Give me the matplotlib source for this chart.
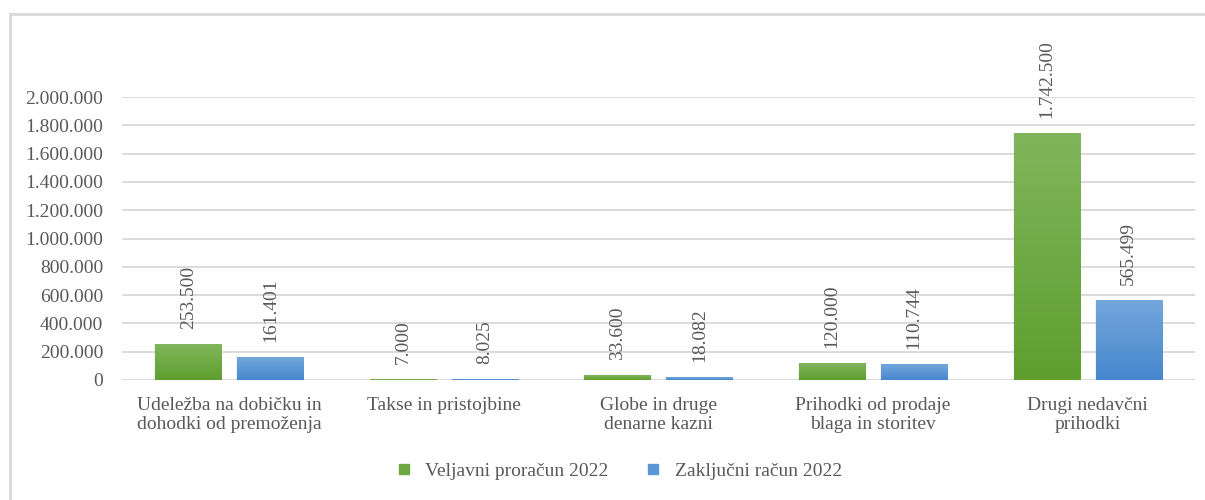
import matplotlib
matplotlib.use("Agg")
import matplotlib.pyplot as plt
import numpy as np
from matplotlib.lines import Line2D
from matplotlib.colors import LinearSegmentedColormap

categories = ["Udeležba na dobičku in\ndohodki od premoženja",
              "Takse in pristojbine",
              "Globe in druge\ndenarne kazni",
              "Prihodki od prodaje\nblaga in storitev",
              "Drugi nedavčni\nprihodki"]
series_names = ["Veljavni proračun 2022", "Zaključni račun 2022"]
veljavni = [253500, 7000, 33600, 120000, 1742500]
zakljucni = [161401, 8025, 18082, 110744, 565499]
yticks = list(range(0, 2000001, 200000))

plt.rcParams['font.family'] = ['Liberation Serif', 'DejaVu Serif']
text_color = "#595959"
grid_color = "#d9d9d9"

fig = plt.figure(figsize=(12.05, 5), dpi=100)
ax = fig.add_axes([122/1205, 1-380/500, (1195-122)/1205, (380-97)/500])

# frame
fig.add_artist(Line2D([10/1205, 10/1205], [1-14/500, 0], transform=fig.transFigure, color=grid_color, lw=2))
fig.add_artist(Line2D([10/1205, 1], [1-14/500, 1-14/500], transform=fig.transFigure, color=grid_color, lw=2))

x = np.arange(len(categories))
w = 0.308
off = 0.191
green_cmap = LinearSegmentedColormap.from_list("g", ["#5f9e2f", "#80b65c"])
blue_cmap = LinearSegmentedColormap.from_list("b", ["#4787cd", "#73a7dc"])
grad = np.linspace(0, 1, 256).reshape(-1, 1)

def draw(vals, dx, cmap, color):
    bars = ax.bar(x + dx, vals, w, color=color, zorder=3, linewidth=0)
    for b, v in zip(bars, vals):
        bx, by = b.get_x(), b.get_y()
        bw, bh = b.get_width(), b.get_height()
        # soft shadow
        ax.bar(bx + bw/2, bh, bw*1.03, bottom=0, color="#000000", alpha=0.05, zorder=2, linewidth=0)
        im = ax.imshow(grad, aspect='auto', cmap=cmap, origin='lower',
                       extent=[bx, bx + bw, by, by + bh], zorder=3.5)
        im.set_clip_path(b)
        lab = f"{v:,}".replace(",", ".")
        ax.annotate(lab, (bx + bw/2, bh), xytext=(0, 11), textcoords='offset points',
                    rotation=90, ha='center', va='bottom', fontsize=14, color=text_color,
                    annotation_clip=False)
    return bars

draw(veljavni, -off, green_cmap, "#6ea843")
draw(zakljucni, off, blue_cmap, "#5b97d6")

ax.set_xlim(-0.5, len(categories) - 0.5)
ax.set_ylim(0, 2000000)
ax.set_yticks(yticks)
ax.set_yticklabels([f"{t:,}".replace(",", ".") for t in yticks])
ax.set_xticks(x)
ax.set_xticklabels(categories, linespacing=1.2)
ax.tick_params(axis='both', length=0, labelsize=14, colors=text_color)
ax.tick_params(axis='y', pad=13.5)
ax.tick_params(axis='x', pad=12)
ax.grid(axis='y', color=grid_color, lw=1.3, zorder=0)
for s in ax.spines.values():
    s.set_visible(False)

handles = [Line2D([], [], marker='s', ls='none', markersize=7, color="#6ea843"),
           Line2D([], [], marker='s', ls='none', markersize=7, color="#5b97d6")]
leg = fig.legend(handles, series_names, loc='center', bbox_to_anchor=(0.513, 1-471/500), ncol=2,
                 frameon=False, fontsize=14, columnspacing=1.8, handletextpad=0.6, handlelength=1.0)
for t in leg.get_texts():
    t.set_color(text_color)

fig.savefig("out.png", dpi=100)
